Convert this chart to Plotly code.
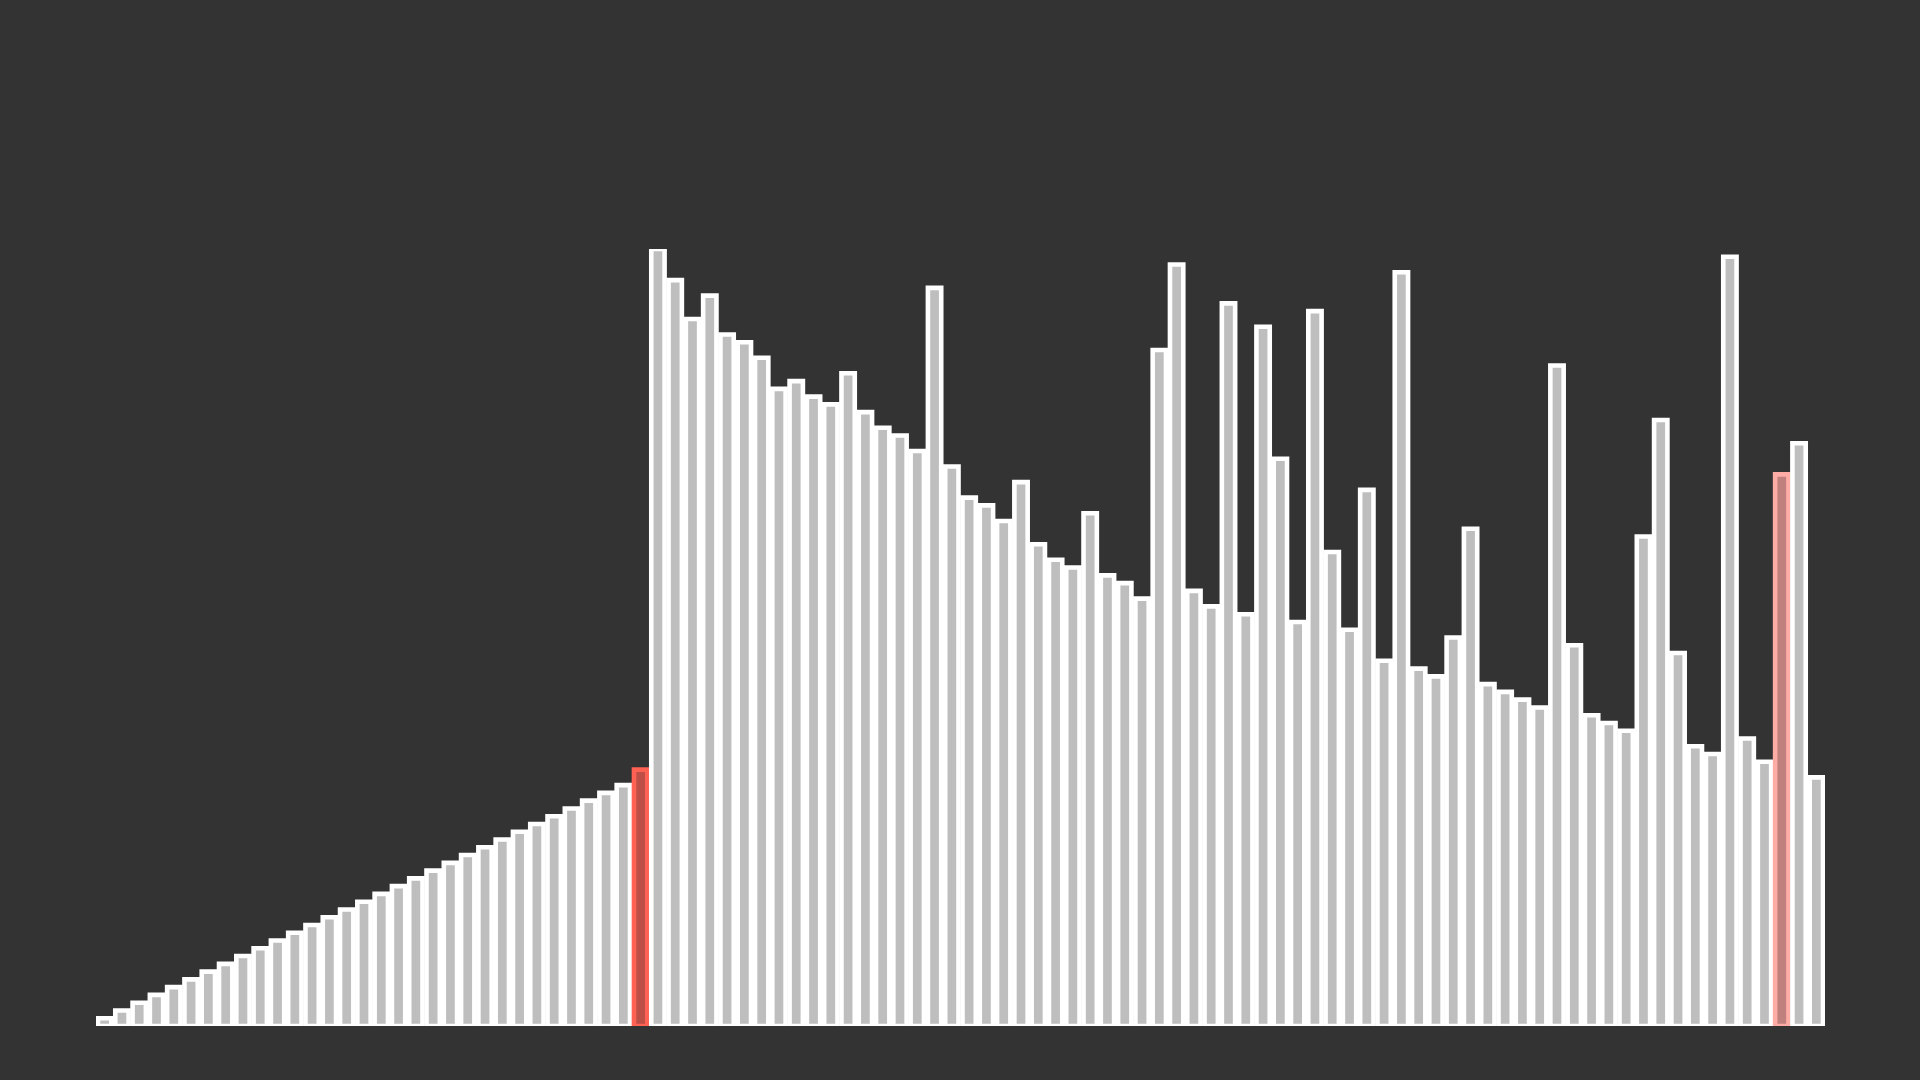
import plotly.graph_objects as go

##############################################################################################################
# bar heights, left to right
VALUES = [
    1, 2, 3, 4, 5, 6, 7, 8, 9, 10, 11, 12, 13, 14, 15, 16, 17, 18, 19, 20,
    21, 22, 23, 24, 25, 26, 27, 28, 29, 30, 31, 33, 100, 96, 91, 94, 89, 88, 86, 82,
    83, 81, 80, 84, 79, 77, 76, 74, 95, 72, 68, 67, 65, 70, 62, 60, 59, 66, 58, 57,
    55, 87, 98, 56, 54, 93, 53, 90, 73, 52, 92, 61, 51, 69, 47, 97, 46, 45, 50, 64,
    44, 43, 42, 41, 85, 49, 40, 39, 38, 63, 78, 48, 36, 35, 99, 37, 34, 71, 75, 32,
]
POSITIONS = list(range(len(VALUES)))
ACTIVE = [31]       # current bar (red)
COMPARE = [97]      # compared bar (pink)

BG = '#333333'
FILL = '#bebebe'
EDGE = '#ffffff'

##############################################################################################################
def main():
    fills, edges = [], []
    for i in POSITIONS:
        if i in ACTIVE:
            fills.append('#bd4f46')
            edges.append('#ff6152')
        elif i in COMPARE:
            fills.append('#c0807d')
            edges.append('#ffaba6')
        else:
            fills.append(FILL)
            edges.append(EDGE)

    fig = go.Figure(
        data=go.Bar(
            x=POSITIONS,
            y=VALUES,
            marker=dict(color=fills, line=dict(color=edges, width=4.6)),
            cliponaxis=False,
            hoverinfo='y',
        ),
        layout=go.Layout(
            width=1920,
            height=1080,
            paper_bgcolor=BG,
            plot_bgcolor=BG,
            bargap=0.23,
            showlegend=False,
            margin=dict(l=96, r=95, t=249, b=54),
            xaxis=dict(visible=False, range=[-0.5, len(VALUES) - 0.5]),
            yaxis=dict(visible=False, range=[0, 100]),
        ),
    )
    # no page margin, so the figure sits flush in the window
    fig.write_html('out.html',
                   config={'displayModeBar': False},
                   post_script="document.body.style.margin='0';document.body.style.overflow='hidden';")

##############################################################################################################
if __name__ == '__main__':
    main()
